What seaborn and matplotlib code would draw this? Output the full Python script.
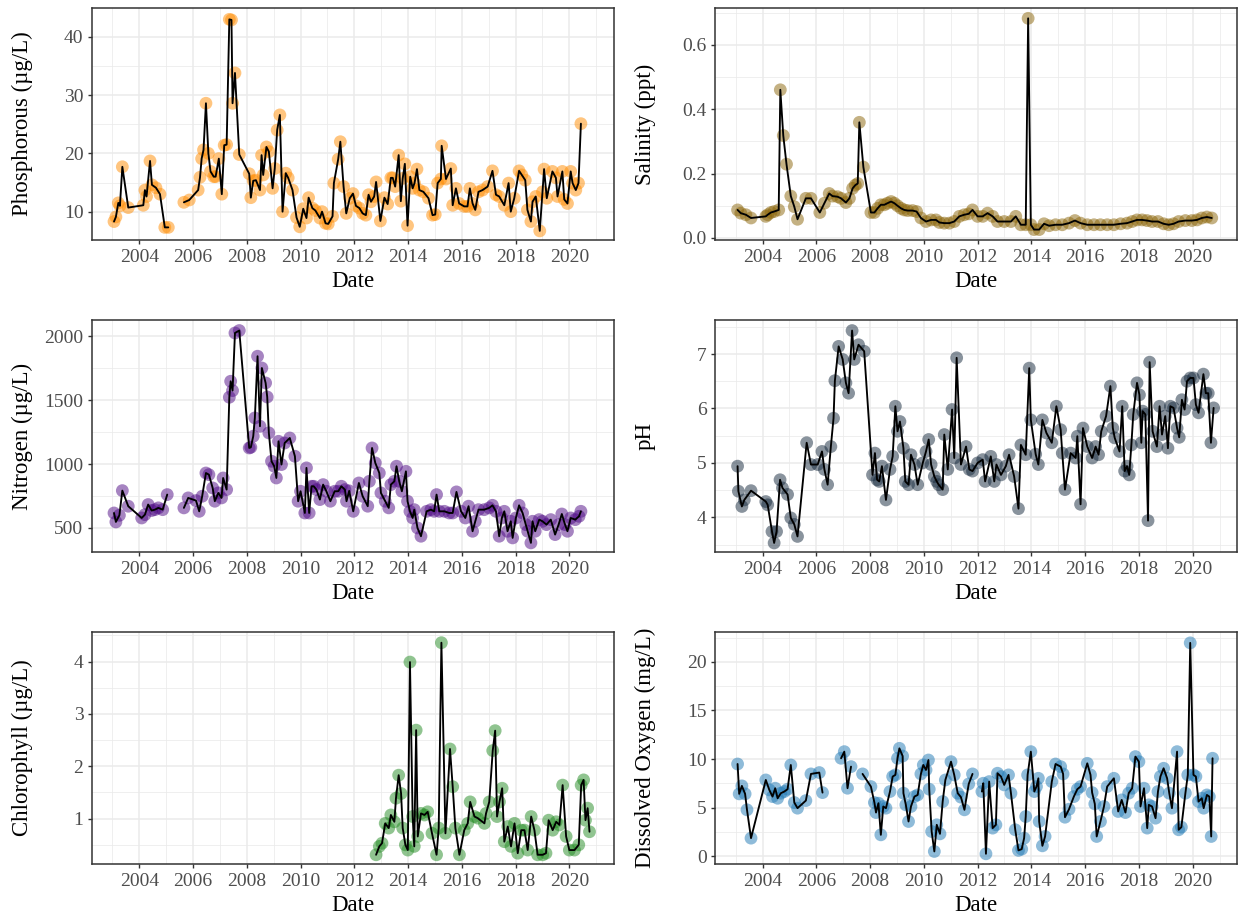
import numpy as np
import pandas as pd
import matplotlib
matplotlib.use("Agg")
import matplotlib.pyplot as plt
import seaborn as sns
from matplotlib.ticker import FixedLocator, FixedFormatter

NAN = np.nan

# ---------------- data (decimal year, value); NaN = gap in the line ----------------
phos_date = [2003.06, 2003.13, 2003.22, 2003.28, 2003.37, 2003.59, 2004.15, 2004.21, 2004.27, 2004.40,
             2004.47, 2004.62, 2004.77, 2004.95, 2005.08, 2005.40, 2005.66, 2005.86, 2006.19, 2006.26,
             2006.32, 2006.39, 2006.48, 2006.57, 2006.65, 2006.77, 2006.84, 2006.96, 2007.07, 2007.16,
             2007.25, 2007.35, 2007.43, 2007.47, 2007.56, 2007.72, 2008.09, 2008.15, 2008.24, 2008.34,
             2008.49, 2008.55, 2008.61, 2008.73, 2008.82, 2008.96, 2009.04, 2009.13, 2009.23, 2009.33,
             2009.45, 2009.54, 2009.70, 2009.85, 2009.97, 2010.10, 2010.22, 2010.30, 2010.44, 2010.55,
             2010.72, 2010.80, 2010.93, 2011.03, 2011.19, 2011.24, 2011.40, 2011.48, 2011.60, 2011.70,
             2011.83, 2011.95, 2012.06, 2012.19, 2012.31, 2012.43, 2012.53, 2012.62, 2012.74, 2012.81,
             2012.97, 2013.12, 2013.24, 2013.36, 2013.43, 2013.52, 2013.65, 2013.73, 2013.80, 2013.88,
             2013.98, 2014.08, 2014.17, 2014.24, 2014.33, 2014.42, 2014.57, 2014.76, 2014.91, 2015.01,
             2015.10, 2015.22, 2015.25, 2015.41, 2015.59, 2015.66, 2015.78, 2015.90, 2016.09, 2016.21,
             2016.30, 2016.40, 2016.50, 2016.62, 2016.77, 2016.96, 2017.14, 2017.27, 2017.39, 2017.58,
             2017.74, 2017.82, 2017.95, 2018.13, 2018.23, 2018.36, 2018.44, 2018.57, 2018.63, 2018.75,
             2018.90, 2019.00, 2019.06, 2019.16, 2019.37, 2019.50, 2019.56, 2019.74, 2019.81, 2019.93,
             2020.05, 2020.12, 2020.24, 2020.34, 2020.43]
phos_val = [8.3, 9.1, 11.5, 11.0, 17.7, 10.7, 11.1, 13.7, 12.6, 18.7,
            14.6, 14.1, 13.0, 7.3, 7.3, NAN, 11.6, 12.0, 13.7, 15.9,
            19.1, 20.6, 28.6, 20.0, 16.9, 16.0, 16.0, 19.1, 13.0, 21.4,
            21.5, 43.0, 42.9, 28.6, 33.8, 19.8, 16.5, 12.4, 15.3, 15.4,
            13.7, 19.7, 16.3, 21.1, 20.3, 14.0, 17.4, 24.0, 26.6, 10.0,
            16.6, 15.8, 13.7, 9.0, 7.4, 10.5, 8.9, 12.4, 10.6, 10.2,
            8.9, 10.0, 8.0, 7.9, 9.2, 14.9, 19.0, 22.0, 14.3, 9.7,
            12.3, 13.1, 11.0, 10.6, 9.7, 9.4, 12.9, 11.7, 12.6, 15.1,
            8.4, 12.4, 11.3, 15.8, 15.8, 14.3, 19.7, 11.8, 15.7, 18.2,
            7.6, 16.0, 14.0, 14.9, 17.3, 13.7, 13.4, 12.3, 9.4, 9.5,
            14.9, 15.6, 21.3, 15.6, 17.4, 11.1, 14.0, 11.4, 10.9, 10.9,
            14.0, 11.4, 10.3, 13.4, 13.7, 14.3, 17.0, 12.9, 12.6, 11.1,
            14.9, 10.0, 12.3, 17.0, 16.3, 15.4, 10.3, 8.3, 11.7, 12.6,
            6.7, 13.4, 17.3, 12.3, 16.9, 15.8, 12.6, 16.9, 12.1, 11.4,
            16.9, 14.9, 13.7, 14.9, 25.1]

sal_date = [2003.07, 2003.19, 2003.38, 2003.57, 2004.12, 2004.19, 2004.31, 2004.43, 2004.60, 2004.66,
            2004.77, 2004.89, 2005.05, 2005.18, 2005.30, 2005.61, 2005.80, 2006.13, 2006.30, 2006.48,
            2006.60, 2006.79, 2006.92, 2007.10, 2007.23, 2007.35, 2007.45, 2007.54, 2007.60, 2007.75,
            2008.03, 2008.16, 2008.28, 2008.40, 2008.53, 2008.65, 2008.78, 2008.90, 2009.02, 2009.15,
            2009.27, 2009.40, 2009.58, 2009.73, 2009.89, 2010.08, 2010.27, 2010.45, 2010.58, 2010.76,
            2010.95, 2011.13, 2011.32, 2011.50, 2011.67, 2011.81, 2012.00, 2012.19, 2012.37, 2012.56,
            2012.74, 2012.99, 2013.24, 2013.42, 2013.61, 2013.79, 2013.88, 2013.98, 2014.10, 2014.29,
            2014.47, 2014.66, 2014.90, 2015.15, 2015.40, 2015.62, 2015.83, 2016.08, 2016.33, 2016.57,
            2016.82, 2017.07, 2017.32, 2017.56, 2017.75, 2017.93, 2018.12, 2018.30, 2018.49, 2018.71,
            2018.92, 2019.11, 2019.29, 2019.48, 2019.73, 2019.97, 2020.16, 2020.34, 2020.53, 2020.71]
sal_val = [0.087, 0.077, 0.072, 0.062, 0.067, 0.072, 0.079, 0.082, 0.087, 0.460,
           0.318, 0.229, 0.130, 0.097, 0.058, 0.123, 0.123, 0.079, 0.108, 0.138,
           0.130, 0.128, 0.123, 0.110, 0.123, 0.154, 0.164, 0.169, 0.359, 0.220,
           0.079, 0.079, 0.092, 0.103, 0.103, 0.108, 0.113, 0.108, 0.100, 0.092,
           0.087, 0.085, 0.085, 0.082, 0.062, 0.051, 0.056, 0.056, 0.048, 0.046,
           0.046, 0.051, 0.067, 0.072, 0.075, 0.087, 0.067, 0.067, 0.077, 0.067,
           0.051, 0.051, 0.051, 0.067, 0.041, 0.041, 0.682, 0.041, 0.026, 0.026,
           0.044, 0.038, 0.041, 0.041, 0.046, 0.054, 0.046, 0.041, 0.041, 0.041,
           0.041, 0.041, 0.044, 0.046, 0.051, 0.056, 0.056, 0.054, 0.051, 0.051,
           0.044, 0.041, 0.044, 0.051, 0.054, 0.054, 0.056, 0.062, 0.065, 0.062]

nit_date = [2003.06, 2003.13, 2003.26, 2003.37, 2003.59, 2004.09, 2004.21, 2004.33, 2004.46, 2004.58,
            2004.71, 2004.87, 2005.04, 2005.35, 2005.66, 2005.82, 2006.11, 2006.23, 2006.34, 2006.48,
            2006.59, 2006.73, 2006.81, 2006.94, 2007.06, 2007.12, 2007.25, 2007.35, 2007.40, 2007.47,
            2007.56, 2007.72, 2008.09, 2008.15, 2008.24, 2008.30, 2008.40, 2008.49, 2008.56, 2008.70,
            2008.76, 2008.82, 2008.92, 2009.02, 2009.10, 2009.18, 2009.29, 2009.41, 2009.60, 2009.79,
            2009.91, 2010.00, 2010.16, 2010.22, 2010.32, 2010.41, 2010.49, 2010.59, 2010.72, 2010.84,
            2010.96, 2011.11, 2011.27, 2011.40, 2011.52, 2011.65, 2011.71, 2011.81, 2011.96, 2012.17,
            2012.31, 2012.50, 2012.56, 2012.66, 2012.78, 2012.93, 2012.99, 2013.15, 2013.28, 2013.36,
            2013.49, 2013.57, 2013.67, 2013.77, 2013.92, 2013.98, 2014.07, 2014.17, 2014.23, 2014.35,
            2014.48, 2014.69, 2014.85, 2014.97, 2015.06, 2015.16, 2015.35, 2015.53, 2015.66, 2015.80,
            2015.97, 2016.13, 2016.25, 2016.40, 2016.50, 2016.62, 2016.83, 2017.02, 2017.14, 2017.27,
            2017.39, 2017.49, 2017.58, 2017.70, 2017.82, 2017.89, 2018.01, 2018.13, 2018.26, 2018.38,
            2018.45, 2018.57, 2018.63, 2018.73, 2018.88, 2019.00, 2019.15, 2019.31, 2019.47, 2019.60,
            2019.72, 2019.84, 2019.93, 2020.05, 2020.22, 2020.36, 2020.43]
nit_val = [617, 547, 599, 792, 670, 578, 604, 683, 636, 643,
           657, 643, 761, NAN, 657, 735, 714, 630, 748, 930,
           917, 813, 709, 774, 735, 891, 800, 1523, 1648, 1575,
           2026, 2045, 1126, 1131, 1218, 1361, 1844, 1296, 1752, 1635,
           1525, 1244, 1022, 983, 891, 1178, 996, 1165, 1204, 1061,
           709, 787, 617, 970, 617, 826, 826, 800, 722, 839,
           787, 709, 787, 787, 826, 800, 709, 790, 630, 852,
           748, 670, 865, 1126, 1009, 930, 774, 709, 657, 839,
           865, 983, 865, 787, 943, 709, 630, 578, 643, 500,
           435, 630, 643, 630, 761, 630, 630, 617, 617, 782,
           630, 578, 670, 474, 552, 643, 643, 657, 677, 630,
           435, 578, 630, 474, 552, 422, 578, 677, 617, 526,
           474, 383, 552, 474, 565, 552, 526, 565, 448, 526,
           609, 526, 474, 578, 565, 591, 630]

ph_date = [2003.07, 2003.10, 2003.23, 2003.32, 2003.57, 2004.12, 2004.19, 2004.35, 2004.43, 2004.52,
           2004.65, 2004.74, 2004.93, 2005.05, 2005.18, 2005.30, 2005.64, 2005.80, 2006.05, 2006.21,
           2006.30, 2006.42, 2006.54, 2006.64, 2006.69, 2006.83, 2006.98, 2007.10, 2007.20, 2007.33,
           2007.41, 2007.57, 2007.78, 2008.09, 2008.18, 2008.26, 2008.34, 2008.44, 2008.59, 2008.74,
           2008.84, 2008.94, 2009.02, 2009.11, 2009.24, 2009.31, 2009.43, 2009.52, 2009.65, 2009.77,
           2009.96, 2010.08, 2010.18, 2010.27, 2010.39, 2010.48, 2010.55, 2010.70, 2010.76, 2010.89,
           2011.05, 2011.13, 2011.22, 2011.38, 2011.57, 2011.69, 2011.81, 2012.00, 2012.19, 2012.28,
           2012.49, 2012.62, 2012.70, 2012.87, 2013.05, 2013.17, 2013.36, 2013.52, 2013.61, 2013.79,
           2013.92, 2013.98, 2014.16, 2014.26, 2014.41, 2014.56, 2014.76, 2014.93, 2015.09, 2015.15,
           2015.25, 2015.46, 2015.65, 2015.71, 2015.83, 2015.92, 2016.08, 2016.26, 2016.39, 2016.50,
           2016.60, 2016.78, 2016.94, 2017.03, 2017.10, 2017.28, 2017.38, 2017.47, 2017.56, 2017.64,
           2017.72, 2017.79, 2017.93, 2018.02, 2018.09, 2018.14, 2018.24, 2018.34, 2018.40, 2018.51,
           2018.67, 2018.77, 2018.86, 2018.98, 2019.08, 2019.17, 2019.29, 2019.42, 2019.50, 2019.60,
           2019.70, 2019.79, 2019.91, 2020.03, 2020.12, 2020.22, 2020.40, 2020.49, 2020.58, 2020.68,
           2020.78]
ph_val = [4.94, 4.48, 4.20, 4.32, 4.49, 4.29, 4.23, 3.74, 3.53, 3.74,
          4.69, 4.54, 4.42, 3.99, 3.87, 3.65, 5.37, 4.97, 4.97, 5.21,
          4.88, 4.60, 5.30, 5.82, 6.51, 7.14, 6.90, 6.47, 6.28, 7.43,
          6.90, 7.17, 7.05, 4.78, 5.18, 4.69, 4.66, 4.94, 4.32, 4.88,
          5.12, 6.04, 5.58, 5.76, 5.27, 4.66, 4.60, 5.15, 4.97, 4.60,
          5.00, 5.21, 5.43, 4.97, 4.75, 4.66, 4.60, 4.51, 5.52, 4.88,
          5.98, 5.09, 6.93, 4.97, 5.30, 4.88, 4.85, 5.00, 5.06, 4.66,
          5.12, 4.66, 4.97, 4.78, 4.94, 5.15, 4.75, 4.16, 5.33, 5.15,
          6.74, 5.79, 5.16, 4.97, 5.79, 5.55, 5.37, 6.04, 5.61, 5.18,
          4.51, 5.18, 5.09, 5.49, 4.24, 5.64, 5.30, 5.09, 5.30, 5.15,
          5.58, 5.86, 6.41, 5.64, 5.46, 5.21, 6.04, 4.85, 4.94, 4.78,
          5.33, 5.89, 6.47, 6.25, 5.37, 5.95, 5.89, 3.94, 6.85, 5.58,
          5.30, 6.04, 5.52, 5.86, 5.27, 6.04, 6.01, 5.64, 5.47, 6.16,
          5.98, 6.50, 6.56, 6.56, 6.07, 5.92, 6.63, 6.28, 6.28, 5.37,
          6.01]

chl_date = [2012.81, 2012.93, 2013.03, 2013.15, 2013.28, 2013.36, 2013.49, 2013.55, 2013.65, 2013.74,
            2013.80, 2013.90, 2013.99, 2014.07, 2014.17, 2014.23, 2014.30, 2014.36, 2014.48, 2014.61,
            2014.73, 2014.89, 2015.06, 2015.14, 2015.24, 2015.39, 2015.56, 2015.66, 2015.76, 2015.91,
            2016.09, 2016.22, 2016.31, 2016.47, 2016.59, 2016.84, 2016.90, 2017.02, 2017.15, 2017.24,
            2017.31, 2017.40, 2017.50, 2017.58, 2017.71, 2017.83, 2017.96, 2018.08, 2018.21, 2018.33,
            2018.45, 2018.58, 2018.70, 2018.82, 2019.01, 2019.13, 2019.23, 2019.38, 2019.51, 2019.63,
            2019.75, 2019.88, 2020.00, 2020.19, 2020.35, 2020.44, 2020.53, 2020.60, 2020.68, 2020.75]
chl_val = [0.31, 0.47, 0.53, 0.91, 0.82, 1.07, 0.94, 1.39, 1.83, 1.48,
           0.82, 0.50, 0.40, 3.99, 1.04, 0.47, 2.69, 0.66, 1.10, 1.07,
           1.13, 0.72, 0.31, 0.82, 4.36, 0.72, 2.33, 1.61, 0.82, 0.31,
           0.78, 0.91, 1.32, 1.04, 1.01, 0.91, 1.10, 1.32, 2.30, 2.68,
           1.04, 1.32, 1.58, 0.56, 0.85, 0.47, 0.91, 0.34, 0.78, 0.78,
           0.40, 1.04, 0.78, 0.31, 0.31, 0.34, 0.97, 0.78, 0.94, 0.88,
           1.64, 0.66, 0.40, 0.40, 0.50, 1.64, 1.74, 0.97, 1.20, 0.75]

do_date = [2003.07, 2003.13, 2003.23, 2003.35, 2003.42, 2003.57, 2004.12, 2004.25, 2004.37, 2004.47,
           2004.56, 2004.68, 2004.81, 2004.93, 2005.05, 2005.18, 2005.30, 2005.61, 2005.80, 2006.11,
           2006.23, 2006.55, 2006.92, 2007.04, 2007.16, 2007.29, 2007.50, 2007.72, 2008.03, 2008.16,
           2008.22, 2008.31, 2008.40, 2008.49, 2008.59, 2008.74, 2008.84, 2008.94, 2009.02, 2009.09,
           2009.21, 2009.24, 2009.33, 2009.43, 2009.52, 2009.65, 2009.77, 2009.89, 2009.98, 2010.08,
           2010.17, 2010.20, 2010.29, 2010.39, 2010.48, 2010.60, 2010.70, 2010.80, 2011.01, 2011.13,
           2011.26, 2011.38, 2011.51, 2011.67, 2011.81, 2011.95, 2012.16, 2012.21, 2012.31, 2012.43,
           2012.56, 2012.68, 2012.74, 2012.87, 2012.99, 2013.15, 2013.24, 2013.40, 2013.52, 2013.64,
           2013.73, 2013.79, 2013.86, 2013.98, 2014.11, 2014.19, 2014.26, 2014.29, 2014.41, 2014.51,
           2014.76, 2014.90, 2015.09, 2015.18, 2015.25, 2015.40, 2015.58, 2015.71, 2015.83, 2016.08,
           2016.20, 2016.26, 2016.36, 2016.43, 2016.57, 2016.70, 2016.82, 2017.07, 2017.23, 2017.36,
           2017.50, 2017.62, 2017.75, 2017.87, 2018.00, 2018.06, 2018.19, 2018.31, 2018.37, 2018.49,
           2018.62, 2018.71, 2018.80, 2018.92, 2019.05, 2019.13, 2019.23, 2019.42, 2019.48, 2019.58,
           2019.73, 2019.82, 2019.91, 2020.03, 2020.12, 2020.22, 2020.34, 2020.41, 2020.53, 2020.62,
           2020.69, 2020.74]
do_val = [9.50, 6.43, 7.25, 6.43, 4.79, 1.88, 7.86, 6.84, 6.15, 7.01,
          5.98, 6.50, 6.67, 6.91, 9.40, 5.54, 4.96, 5.74, 8.48, 8.62,
          6.56, NAN, 10.09, 10.77, 7.01, 9.23, NAN, 8.48, 7.18, 5.54,
          4.51, 5.47, 2.22, 5.13, 4.96, 6.67, 8.21, 8.38, 10.09, 11.11,
          10.32, 6.50, 5.30, 3.59, 5.13, 6.15, 6.32, 8.48, 9.40, 8.89,
          9.91, 6.91, 2.56, 0.51, 3.25, 2.32, 5.64, 7.86, 9.74, 8.38,
          6.50, 6.09, 4.79, 7.45, 8.48, NAN, 6.67, 7.52, 0.27, 7.69,
          2.91, 3.25, 8.55, 8.21, 7.35, 8.38, 6.50, 2.74, 0.62, 0.75,
          1.88, 4.10, 8.38, 10.77, 6.67, 7.18, 8.03, 3.59, 1.09, 2.05,
          7.69, 9.50, 9.23, 8.48, 4.03, 4.85, 6.15, 6.91, 7.18, 9.57,
          8.38, 6.56, 5.40, 2.05, 3.59, 5.13, 7.18, 8.03, 4.62, 5.81,
          4.51, 6.50, 7.01, 10.26, 9.74, 5.13, 7.01, 2.91, 5.30, 5.13,
          3.93, 6.67, 8.21, 9.06, 8.03, 6.50, 4.96, 10.77, 2.74, 3.01,
          6.50, 8.38, 21.95, 8.38, 8.21, 5.64, 5.98, 4.96, 6.32, 6.15,
          2.05, 10.09]

x_major = [2004, 2006, 2008, 2010, 2012, 2014, 2016, 2018, 2020]
x_minor = [2003, 2005, 2007, 2009, 2011, 2013, 2015, 2017, 2019, 2021]
x_labels = [str(y) for y in x_major]

# ---------------- styling ----------------
sns.set_theme(style="white")
plt.rcParams['font.family'] = ['Liberation Serif', 'DejaVu Serif']
plt.rcParams['axes.unicode_minus'] = False

W, H = 1239, 919
fig = plt.figure(figsize=(W / 100, H / 100), dpi=100)
fig.patch.set_facecolor("white")

AX_W = 522.0
AX_H = 232.5
col_left = [91.7, 715.0]
row_top = [7.7, 319.7, 631.7]


def make_ax(col, row):
    L = col_left[col]
    T = row_top[row]
    return fig.add_axes([L / W, 1 - (T + AX_H) / H, AX_W / W, AX_H / H])


panels = [
    dict(col=0, row=0, d=phos_date, v=phos_val, color="#FF8C00", label="Phosphorous (µg/L)",
         ylim=(5.1, 45.0), yt=[10, 20, 30, 40], ytl=["10", "20", "30", "40"], ym=[15, 25, 35]),
    dict(col=1, row=0, d=sal_date, v=sal_val, color="#8B6508", label="Salinity (ppt)",
         ylim=(-0.007, 0.715), yt=[0.0, 0.2, 0.4, 0.6], ytl=["0.0", "0.2", "0.4", "0.6"],
         ym=[0.1, 0.3, 0.5, 0.7]),
    dict(col=0, row=1, d=nit_date, v=nit_val, color="#4E0A85", label="Nitrogen (µg/L)",
         ylim=(310, 2130), yt=[500, 1000, 1500, 2000], ytl=["500", "1000", "1500", "2000"],
         ym=[750, 1250, 1750]),
    dict(col=1, row=1, d=ph_date, v=ph_val, color="#15283C", label="pH",
         ylim=(3.36, 7.63), yt=[4, 5, 6, 7], ytl=["4", "5", "6", "7"], ym=[3.5, 4.5, 5.5, 6.5, 7.5]),
    dict(col=0, row=2, d=chl_date, v=chl_val, color="#228B22", label="Chlorophyll (µg/L)",
         ylim=(0.13, 4.57), yt=[1, 2, 3, 4], ytl=["1", "2", "3", "4"], ym=[0.5, 1.5, 2.5, 3.5, 4.5]),
    dict(col=1, row=2, d=do_date, v=do_val, color="#1F78B4", label="Dissolved Oxygen (mg/L)",
         ylim=(-0.8, 23.1), yt=[0, 5, 10, 15, 20], ytl=["0", "5", "10", "15", "20"],
         ym=[2.5, 7.5, 12.5, 17.5, 22.5]),
]

for p in panels:
    ax = make_ax(p["col"], p["row"])
    df = pd.DataFrame({"Date": p["d"], "Value": p["v"]})
    df["seg"] = df["Value"].isna().cumsum()
    df = df.dropna().reset_index(drop=True)

    sns.scatterplot(data=df, x="Date", y="Value", color=p["color"], alpha=0.5, s=85,
                    edgecolor="none", linewidth=0, ax=ax, zorder=2, legend=False)
    sns.lineplot(data=df, x="Date", y="Value", units="seg", estimator=None, color="black",
                 linewidth=1.35, ax=ax, zorder=3, sort=False, legend=False)

    ax.set_xlim(2002.23, 2021.65)
    ax.set_ylim(*p["ylim"])

    ax.xaxis.set_major_locator(FixedLocator(x_major))
    ax.xaxis.set_major_formatter(FixedFormatter(x_labels))
    ax.xaxis.set_minor_locator(FixedLocator(x_minor))
    ax.yaxis.set_major_locator(FixedLocator(p["yt"]))
    ax.yaxis.set_major_formatter(FixedFormatter(p["ytl"]))
    ax.yaxis.set_minor_locator(FixedLocator(p["ym"]))

    ax.set_axisbelow(True)
    ax.grid(which="major", color="#EBEBEB", linewidth=1.1)
    ax.grid(which="minor", color="#EBEBEB", linewidth=0.55)
    ax.set_facecolor("white")
    for s in ax.spines.values():
        s.set_visible(True)
        s.set_color("#333333")
        s.set_linewidth(1.1)

    ax.tick_params(which="major", direction="out", length=3.0, width=1.0, color="#333333",
                   labelcolor="#4D4D4D", labelsize=14, pad=3, bottom=True, left=True)
    ax.tick_params(which="minor", length=0, bottom=False, left=False)

    ax.set_xlabel("Date", fontsize=16.5, color="black")
    ax.set_ylabel(p["label"], fontsize=16.5, color="black")

    # aligned axis titles (as in the reference layout)
    label_right_px = 33.0 if p["col"] == 0 else 656.0
    ax.yaxis.set_label_coords((label_right_px - col_left[p["col"]]) / AX_W, 0.5)
    ax.xaxis.set_label_coords(0.5, -31.0 / AX_H)

fig.savefig("out.png", dpi=100, facecolor="white")
